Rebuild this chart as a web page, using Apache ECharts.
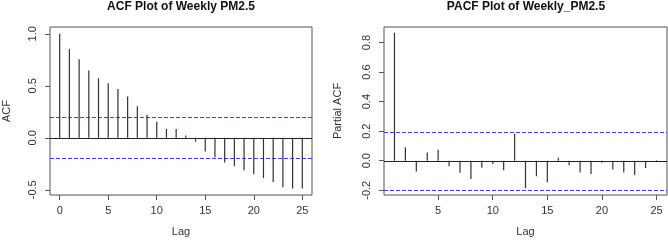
<!DOCTYPE html>
<html>
<head>
<meta charset="utf-8">
<script src="https://cdn.jsdelivr.net/npm/echarts@6/dist/echarts.min.js"></script>
<style>
  html, body { margin: 0; padding: 0; background: #fff; }
  #chart { width: 668px; height: 242px; }
</style>
</head>
<body>
<div id="chart"></div>
<script>
// ACF of weekly PM2.5, lags 0..25
const acfLags = [0, 1, 2, 3, 4, 5, 6, 7, 8, 9, 10, 11, 12, 13, 14, 15, 16, 17, 18, 19, 20, 21, 22, 23, 24, 25];
const acfValues = [1.0, 0.853, 0.756, 0.647, 0.572, 0.525, 0.469, 0.397, 0.303, 0.222, 0.153, 0.085, 0.084, 0.021,
    -0.038, -0.132, -0.188, -0.237, -0.272, -0.311, -0.35, -0.387, -0.426, -0.475, -0.488, -0.487];

// PACF, lags 1..25
const pacfLags = [1, 2, 3, 4, 5, 6, 7, 8, 9, 10, 11, 12, 13, 14, 15, 16, 17, 18, 19, 20, 21, 22, 23, 24, 25];
const pacfValues = [0.866, 0.091, -0.073, 0.056, 0.074, -0.037, -0.081, -0.124, -0.048, -0.022, -0.065, 0.182,
    -0.185, -0.105, -0.145, 0.02, -0.031, -0.08, -0.09, -0.013, -0.06, -0.08, -0.097, -0.05, 0.004];

const acfXTicks = [0, 5, 10, 15, 20, 25];
const acfYTicks = [-0.5, 0, 0.5, 1.0];
const pacfXTicks = [5, 10, 15, 20, 25];
const pacfYTicks = [-0.2, 0, 0.2, 0.4, 0.6, 0.8];
const ciBound = 0.196; // 95% band
const ciLevels = [ciBound, -ciBound];

const FONT = "'Liberation Sans', Arial, sans-serif";
const AXIS_COLOR = "#555";
const TEXT_COLOR = "#333";
const CI_COLOR = "#3d3dff";

const chart = echarts.init(document.getElementById("chart"));

// vertical spike from 0 up/down to the value
function spike(params, api) {
    const base = api.coord([api.value(0), 0]);
    const tip = api.coord([api.value(0), api.value(1)]);
    return {
        type: "line",
        shape: { x1: base[0], y1: base[1], x2: tip[0], y2: tip[1] },
        style: { stroke: "#333", lineWidth: 1.2 }
    };
}

// horizontal line across the whole plot box at a y level
const hline = (stroke, dash) => function (params, api) {
    const cs = params.coordSys;
    const y = Math.round(api.coord([0, api.value(0)])[1]) + 0.5;
    return {
        type: "line",
        shape: { x1: cs.x, y1: y, x2: cs.x + cs.width, y2: y },
        style: { stroke: stroke, lineWidth: 1, lineDash: dash }
    };
};

const xAxisBase = (min, max, ticks) => ({
    type: "value",
    min: min,
    max: max,
    name: "Lag",
    nameLocation: "middle",
    nameGap: 31,
    nameTextStyle: { fontFamily: FONT, fontSize: 11, color: TEXT_COLOR },
    axisLine: { show: false, onZero: false },
    splitLine: { show: false },
    axisTick: { show: true, length: 5, customValues: ticks, lineStyle: { color: AXIS_COLOR } },
    axisLabel: { customValues: ticks, margin: 10, fontFamily: FONT, fontSize: 11, color: TEXT_COLOR }
});

const yAxisBase = (min, max, ticks, name, gap) => ({
    type: "value",
    min: min,
    max: max,
    name: name,
    nameLocation: "middle",
    nameGap: gap,
    nameTextStyle: { fontFamily: FONT, fontSize: 11, color: TEXT_COLOR },
    axisLine: { show: false, onZero: false },
    splitLine: { show: false },
    axisTick: { show: true, length: 5, customValues: ticks, lineStyle: { color: AXIS_COLOR } },
    axisLabel: {
        customValues: ticks, rotate: 90, margin: 12,
        fontFamily: FONT, fontSize: 11, color: TEXT_COLOR,
        formatter: (v) => v.toFixed(1)
    }
});

const refSeries = (idx, levels, stroke, dash) => ({
    type: "custom",
    xAxisIndex: idx, yAxisIndex: idx,
    silent: true,
    renderItem: hline(stroke, dash),
    data: levels.map((v) => [v])
});

const option = {
    backgroundColor: "#fff",
    animation: false,
    title: [
        { text: "ACF Plot of Weekly PM2.5", left: 181, top: 1, padding: 0, textAlign: "center",
          textStyle: { fontFamily: FONT, fontSize: 12, fontWeight: "bold", color: "#111" } },
        { text: "PACF Plot of Weekly_PM2.5", left: 526, top: 1, padding: 0, textAlign: "center",
          textStyle: { fontFamily: FONT, fontSize: 12, fontWeight: "bold", color: "#111" } }
    ],
    grid: [
        { left: 50, right: 356, top: 27, bottom: 42, show: true, borderColor: AXIS_COLOR, borderWidth: 1, backgroundColor: "transparent" },
        { left: 384, right: 1, top: 27, bottom: 42, show: true, borderColor: AXIS_COLOR, borderWidth: 1, backgroundColor: "transparent" }
    ],
    xAxis: [
        Object.assign(xAxisBase(-1, 26, acfXTicks), { gridIndex: 0 }),
        Object.assign(xAxisBase(0.04, 25.96, pacfXTicks), { gridIndex: 1 })
    ],
    yAxis: [
        Object.assign(yAxisBase(-0.55, 1.065, acfYTicks, "ACF", 38), { gridIndex: 0 }),
        Object.assign(yAxisBase(-0.232, 0.905, pacfYTicks, "Partial ACF", 41), { gridIndex: 1 })
    ],
    series: [
        refSeries(0, [0], "#222", null),
        refSeries(1, [0], "#222", null),
        refSeries(0, ciLevels, CI_COLOR, [4, 2]),
        refSeries(1, ciLevels, CI_COLOR, [4, 2]),
        {
            type: "custom",
            xAxisIndex: 0, yAxisIndex: 0,
            renderItem: spike,
            data: acfLags.map((l, i) => [l, acfValues[i]])
        },
        {
            type: "custom",
            xAxisIndex: 1, yAxisIndex: 1,
            renderItem: spike,
            data: pacfLags.map((l, i) => [l, pacfValues[i]])
        }
    ]
};

chart.setOption(option);
</script>
</body>
</html>
